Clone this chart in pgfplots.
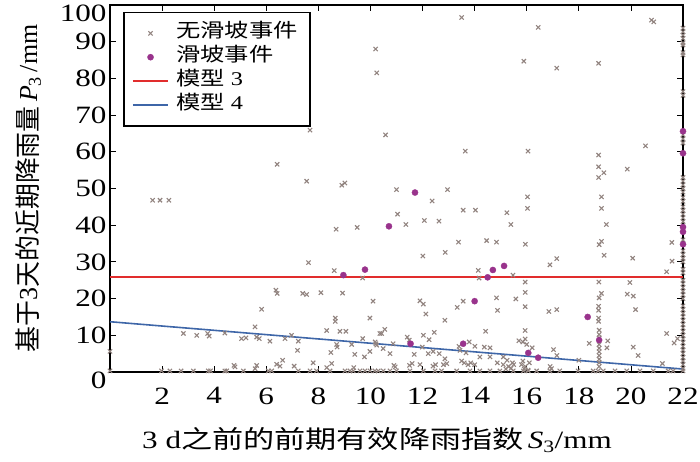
\documentclass[border=0pt]{standalone}
\usepackage{fontspec}
\setmainfont{Liberation Serif}[FakeStretch=1.25]
\newfontfamily\rotserif{Liberation Serif}
\newfontfamily\cjk{Noto Sans CJK SC}[FakeStretch=1.25]
\newfontfamily\rotcjk{Noto Sans CJK SC}
\usepackage{pgfplots}
\usepackage{pgfplotstable}
\pgfplotsset{compat=1.18}
\definecolor{grayx}{RGB}{146,132,128}
\definecolor{purp}{RGB}{153,51,140}
\definecolor{redl}{RGB}{225,45,45}
\definecolor{bluel}{RGB}{62,102,168}

\pgfplotstableread{
x y
10.2 88.0
10.24 81.5
7.68 65.9
6.42 56.6
7.55 52.0
8.9 50.9
9.02 51.5
1.64 46.8
1.92 46.8
2.26 46.8
13.5 96.6
16.44 93.9
20.79 95.9
20.88 95.4
15.89 84.7
17.15 82.8
18.76 84.1
10.58 64.6
13.64 60.2
16.05 60.2
18.76 59.1
18.76 55.9
18.96 54.3
18.76 53.0
20.56 61.6
19.86 55.3
11.0 49.7
12.96 49.7
12.37 46.6
11.04 43.0
11.36 40.2
12.07 41.3
12.63 41.1
13.56 44.1
14.03 44.1
15.24 43.4
15.39 40.2
16.03 47.7
16.03 44.6
18.87 47.7
18.87 44.6
19.06 40.2
13.38 35.4
14.46 35.8
14.84 35.4
15.95 34.8
18.87 35.6
18.78 34.7
18.97 31.8
20.07 31.0
21.57 35.3
21.58 30.2
21.37 27.3
12.01 31.6
12.87 32.6
16.89 29.2
17.15 30.9
14.14 27.7
14.17 25.6
15.47 26.4
15.94 24.5
18.77 24.5
19.96 24.4
15.94 21.7
14.84 20.2
14.88 16.8
15.58 19.9
15.94 17.8
13.56 19.3
13.33 17.6
11.9 19.4
12.03 18.5
12.13 15.8
12.86 14.1
18.87 21.4
18.78 20.2
18.76 17.9
18.76 16.8
18.76 14.7
18.76 13.8
19.86 21.2
20.09 20.7
20.18 17.0
16.85 16.5
17.15 17.0
18.78 11.4
18.78 10.2
18.78 9.3
18.4 7.8
19.11 8.5
19.08 6.6
20.09 6.8
20.28 4.5
21.37 10.5
21.66 7.9
21.79 9.1
21.21 2.3
14.42 11.1
15.94 11.3
15.7 8.5
15.85 8.2
15.94 9.0
16.0 7.5
16.21 6.6
17.03 6.1
17.16 4.5
18.0 3.2
16.9 1.5
16.95 0.9
10.55 11.6
10.43 10.5
10.87 7.7
10.75 5.0
10.49 6.4
11.41 9.5
11.49 8.7
12.03 10.0
12.25 8.8
12.45 10.8
11.68 4.8
11.99 6.8
12.22 5.0
12.41 5.6
12.64 5.0
13.4 7.0
13.44 5.9
13.67 5.2
13.79 8.2
14.37 6.8
14.59 6.6
14.01 7.0
14.59 4.1
14.87 2.5
15.1 4.1
15.25 3.2
15.45 2.5
12.86 3.6
12.93 2.3
12.8 2.0
13.5 3.0
13.6 2.5
13.75 2.0
13.85 2.5
14.0 2.0
11.5 1.8
11.6 2.3
11.9 2.0
10.9 1.8
10.95 1.4
12.4 1.6
12.5 2.0
10.21 7.7
14.2 4.1
15.1 2.0
15.3 1.5
15.4 1.0
15.5 2.0
15.2 0.8
15.8 2.0
15.95 1.5
15.9 0.8
16.05 0.5
16.1 2.5
15.85 3.0
9.49 39.4
8.68 38.9
7.62 29.8
8.61 27.6
9.7 25.6
8.93 21.5
8.1 21.6
7.4 21.4
7.55 21.1
6.37 22.3
6.42 21.4
5.82 17.1
10.1 19.3
9.98 14.7
8.65 14.7
8.65 13.8
5.57 12.3
8.32 11.3
8.83 11.1
9.06 11.1
2.82 10.5
3.33 10.0
3.75 10.5
3.81 9.8
4.41 10.6
5.05 9.1
5.22 9.3
5.63 9.5
5.73 9.1
6.14 8.4
6.72 9.1
6.97 10.0
7.23 8.4
7.2 5.9
10.36 10.5
9.7 9.1
9.28 7.5
8.7 7.5
8.72 6.8
10.18 8.2
10.24 7.3
9.98 5.6
9.77 4.1
9.4 4.8
8.48 5.3
8.51 2.3
8.32 1.2
9.36 1.2
7.8 2.5
7.07 1.6
6.63 3.2
6.53 1.6
6.4 2.1
5.63 1.8
5.57 0.9
4.76 1.8
4.8 1.4
0 5.6
0 0.3
1.98 0.3
2.3 0.3
2.73 0.3
3.2 0.3
3.77 0.3
3.86 0.3
4.41 0.3
4.48 0.3
5.12 0.3
6.08 0.3
6.21 0.3
7.23 0.3
7.68 0.3
7.93 0.3
8.45 0.3
9.02 0.3
9.21 0.3
9.34 0.3
9.6 0.3
9.79 0.3
9.98 0.3
10.17 0.3
10.3 0.3
10.49 0.3
10.75 0.3
11.0 0.3
11.52 0.3
12.03 0.3
12.48 0.3
12.73 0.3
13.31 0.3
13.82 0.3
14.2 0.3
14.59 0.3
14.97 0.3
15.48 0.3
15.87 0.3
16.06 0.3
16.38 0.3
16.89 0.3
17.27 0.3
17.97 0.3
18.55 0.3
18.74 0.3
18.94 0.3
19.39 0.3
19.84 0.3
20.35 0.3
20.86 0.3
21.43 0.3
21.62 0.3
18.78 7.5
18.78 6.5
18.78 5.5
18.78 4.5
18.78 3.5
18.78 2.5
18.78 1.5
22 93.7
22 92.7
22 91.8
22 90.9
22 89.7
22 89.1
22 87.0
22 86.4
22 76.4
22 75.4
22 64.6
22 63.5
22 62.4
22 53.0
22 52.0
22 51.0
22 50.0
22 49.0
22 47.5
22 46.5
22 45.0
22 44.0
22 43.0
22 42.0
22 41.0
22 36.0
22 33.0
22 32.0
22 31.0
22 30.0
22 28.0
22 27.0
22 25.0
22 24.0
22 23.0
22 22.0
22 21.0
22 20.0
22 18.0
22 17.0
22 16.0
22 15.0
22 14.0
22 13.0
22 12.0
22 11.0
22 10.0
22 9.0
22 8.0
22 7.0
22 6.0
22 5.0
22 4.0
22 3.0
22 2.0
22 1.0
22 0.3
}\graydata

\pgfplotstableread{
x y
8.96 26.4
9.79 27.9
10.71 39.7
11.71 48.9
11.54 7.7
13.56 7.7
14.0 19.3
14.5 25.8
14.7 27.8
15.13 28.9
16.06 5.2
16.44 3.9
18.34 15.0
18.78 8.7
22 65.6
22 59.6
22 39.5
22 38.2
22 34.8
}\slidedata

\begin{document}
\begin{tikzpicture}
\begin{axis}[
  width=573bp, height=367bp, scale only axis,
  xmin=0, xmax=22, ymin=0, ymax=100,
  xtick={2,4,...,22}, ytick={10,20,...,90},
  extra y ticks={0,100},
  extra y tick style={yticklabel style={yshift=-8bp}},
  clip=false,
  tick align=inside, major tick length=6bp,
  axis line style={line width=2.6bp},
  tick style={line width=0.8bp, black},
  /pgf/number format/assume math mode=true,
  tick label style={font=\fontsize{25}{28}\selectfont},
  xticklabel style={yshift=-12bp},
  xlabel={3 d{\cjk 之前的前期有效降雨指数}\,{\itshape S}\textsubscript{3}/mm},
  ylabel={\rotserif{\rotcjk 基于}3{\rotcjk 天的近期降雨量}\,{\itshape P}\textsubscript{3}\,/mm},
  xlabel style={font=\fontsize{25}{28}\selectfont, at={(axis description cs:0.466,-0.185)}, anchor=center},
  ylabel style={font=\fontsize{26}{28}\selectfont, at={(axis description cs:-0.143,0.5)}, anchor=center},
  legend style={at={(axis description cs:0.023,0.982)}, anchor=north west,
    draw=black, line width=1.8bp, font=\fontsize{19.5}{22}\selectfont,
    inner xsep=8bp, inner ysep=9bp,
    nodes={inner xsep=4bp, inner ysep=2.4bp, text height=14bp, text depth=5bp},
    row sep=0pt, column sep=3bp},
  legend cell align=left,
]
\addplot[forget plot, only marks, mark=x, mark size=3bp, color=grayx,
  mark options={line width=1.1bp}]
  table[x=x,y=y]{\graydata};
\addplot[forget plot, only marks, mark=*, mark size=3.1bp, color=purp, line width=0.3bp,
  mark options={draw=purp, fill=purp}]
  table[x=x,y=y]{\slidedata};
\addplot[forget plot, color=redl, solid, line width=1.8bp, mark=none]
  coordinates {(0,25.8) (22,25.8)};
\addplot[forget plot, color=bluel, solid, line width=1.6bp, mark=none]
  coordinates {(0,13.7) (22,0.8)};
\addlegendimage{legend image code/.code={\draw[grayx, line width=1.1bp] plot[mark=x, mark size=3bp] coordinates {(0.62cm,0cm)};}}
\addlegendentry{{\cjk 无滑坡事件}}
\addlegendimage{legend image code/.code={\draw[purp, fill=purp, line width=0.3bp] plot[mark=*, mark size=3.1bp] coordinates {(0.62cm,0cm)};}}
\addlegendentry{{\cjk 滑坡事件}}
\addlegendimage{legend image code/.code={\draw[redl, line width=1.8bp] (0cm,0cm) -- (1.25cm,0cm);}}
\addlegendentry{{\cjk 模型} 3}
\addlegendimage{legend image code/.code={\draw[bluel, line width=1.8bp] (0cm,0cm) -- (1.25cm,0cm);}}
\addlegendentry{{\cjk 模型} 4}
\end{axis}
\pgfresetboundingbox
\path ([xshift=-110bp,yshift=-90bp]current axis.south west) rectangle ([xshift=17bp,yshift=5bp]current axis.north east);
\end{tikzpicture}
\end{document}
